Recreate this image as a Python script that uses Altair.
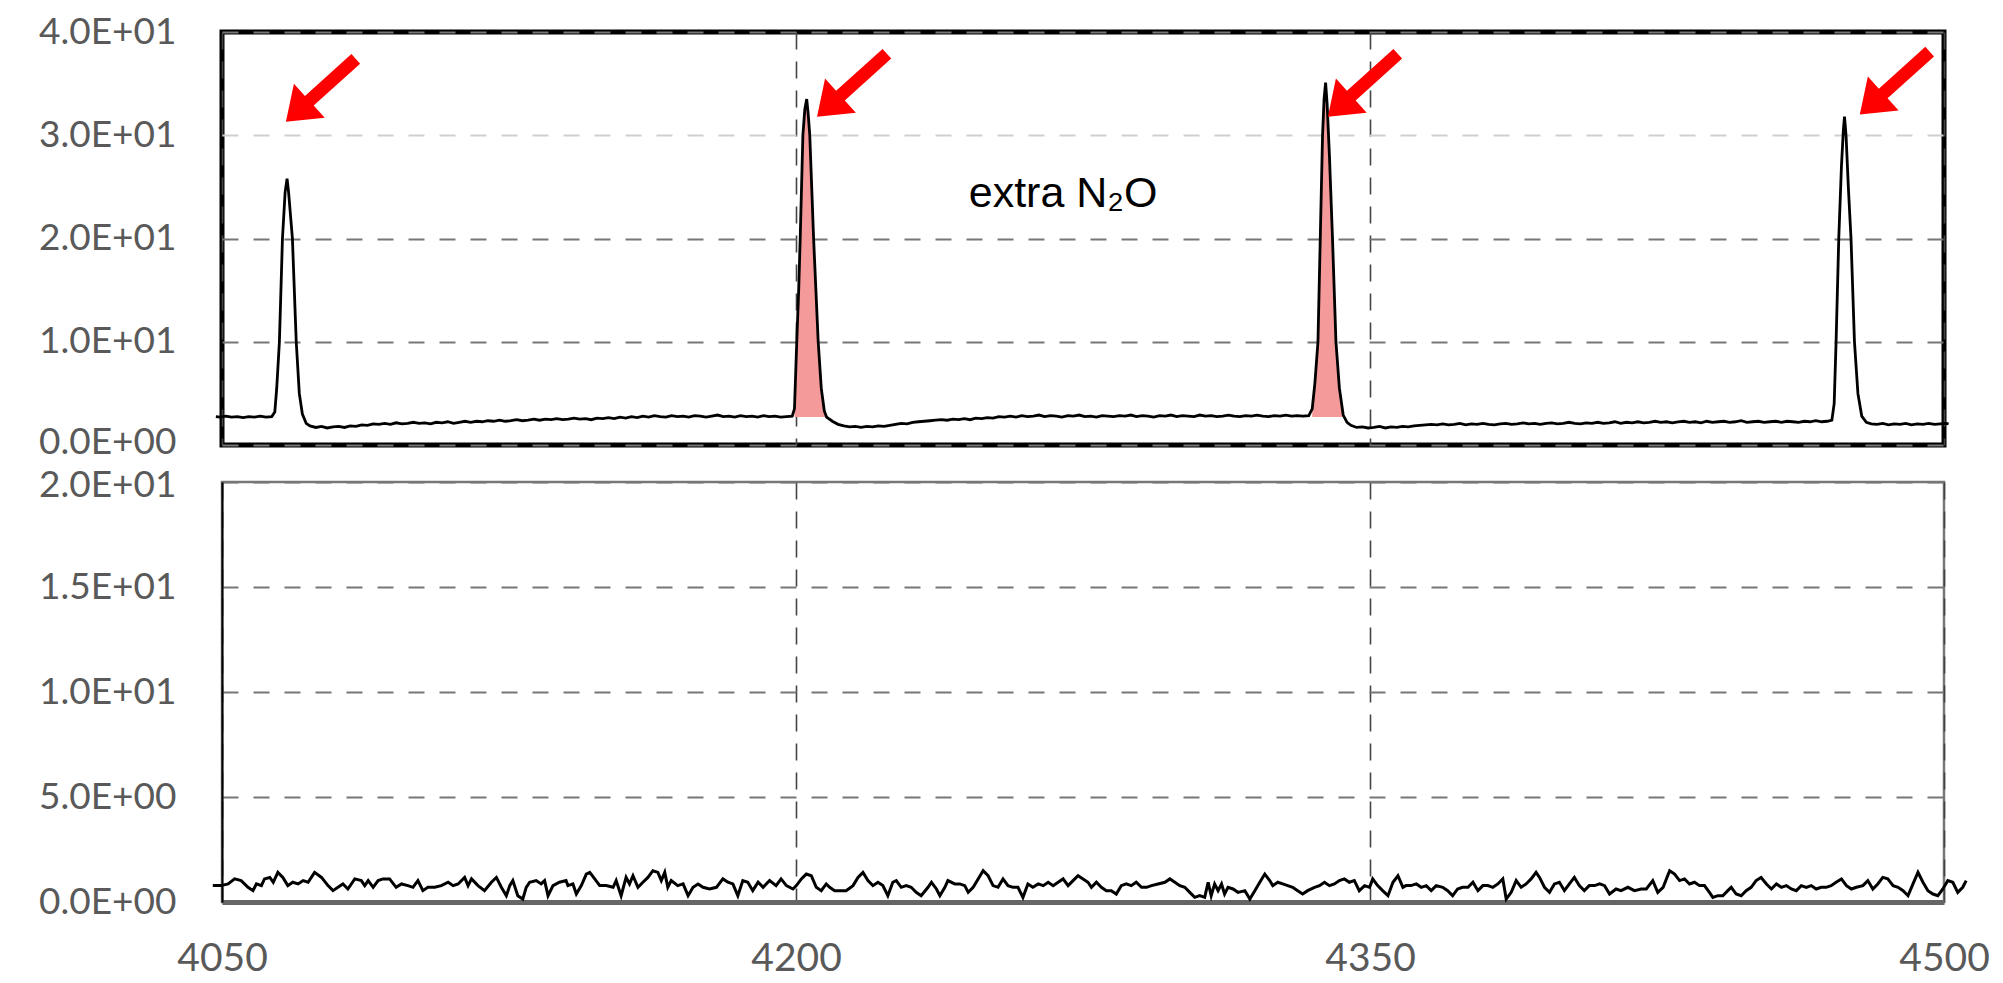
import altair as alt
import pandas as pd

# ---------------- data ----------------
x_ticks = [4050, 4200, 4350, 4500]
top_y_ticks = [0, 10, 20, 30, 40]
bot_y_ticks = [0, 5, 10, 15, 20]

# top spectrum, segment by segment: (wavenumber, signal)
top_seg_a = [(4048.4, 2.75), (4049.5, 2.7), (4051, 2.8), (4052.5, 2.7), (4054, 2.75), (4055.5, 2.65),
             (4057, 2.75), (4058.5, 2.7), (4060, 2.8), (4061.5, 2.7), (4063, 2.75)]
top_peak_1 = [(4063.8, 3.2), (4064.3, 5.5), (4065.0, 10), (4065.8, 20), (4066.5, 24.5), (4067.0, 25.8),
              (4067.4, 24.5), (4068.4, 20), (4069.4, 10), (4070.2, 5.0), (4071.0, 3.0), (4072.0, 2.1),
              (4073.0, 1.85)]
top_seg_b = [(4074.5, 1.7), (4076, 1.8), (4077.5, 1.65), (4079, 1.75), (4080.5, 1.8), (4082, 1.7),
             (4083.5, 1.85), (4085, 1.8), (4086.5, 1.95), (4088, 1.9), (4089.5, 2.05), (4091, 2.0),
             (4092.5, 2.1), (4094, 2.0), (4095.5, 2.15), (4097, 2.05), (4098.5, 2.1), (4100, 2.2),
             (4101.5, 2.1), (4103, 2.15), (4104.5, 2.05), (4106, 2.2), (4107.5, 2.15), (4109, 2.25),
             (4110.5, 2.1), (4112, 2.2), (4113.5, 2.3), (4115, 2.2), (4116.5, 2.3), (4118, 2.25),
             (4119.5, 2.35), (4121, 2.3), (4122.5, 2.4), (4124, 2.3), (4125.5, 2.35), (4127, 2.45),
             (4128.5, 2.35), (4130, 2.4), (4131.5, 2.5), (4133, 2.4), (4134.5, 2.5), (4136, 2.45),
             (4137.5, 2.55), (4139, 2.45), (4140.5, 2.5), (4142, 2.6), (4143.5, 2.5), (4145, 2.55),
             (4146.5, 2.45), (4148, 2.6), (4149.5, 2.55), (4151, 2.65), (4152.5, 2.55), (4154, 2.7),
             (4155.5, 2.6), (4157, 2.75), (4158.5, 2.65), (4160, 2.8), (4161.5, 2.7), (4163, 2.85),
             (4164.5, 2.75), (4166, 2.7), (4167.5, 2.85), (4169, 2.75), (4170.5, 2.8), (4172, 2.7),
             (4173.5, 2.85), (4175, 2.8), (4176.5, 2.7), (4178, 2.8), (4179.5, 2.9), (4181, 2.75),
             (4182.5, 2.8), (4184, 2.7), (4185.5, 2.85), (4187, 2.75), (4188.5, 2.8), (4190, 2.7),
             (4191.5, 2.85), (4193, 2.75), (4194.5, 2.8), (4196, 2.7), (4197.5, 2.75), (4199, 2.8)]
top_peak_2 = [(4199.6, 3.5), (4200.2, 10), (4200.7, 15), (4201.1, 20), (4201.8, 30), (4202.3, 32.5),
              (4202.8, 33.5), (4203.2, 32), (4203.6, 30), (4204.6, 20), (4205.2, 15), (4205.8, 10),
              (4206.6, 5.5), (4207.4, 3.3), (4208.0, 2.7), (4209.5, 2.3), (4211, 2.0)]
top_seg_c = [(4212.5, 1.85), (4214, 1.75), (4215.5, 1.8), (4217, 1.7), (4218.5, 1.8), (4220, 1.75),
             (4221.5, 1.85), (4223, 1.8), (4224.5, 1.9), (4226, 2.0), (4227.5, 2.1), (4229, 2.05),
             (4230.5, 2.2), (4232, 2.25), (4233.5, 2.3), (4235, 2.35), (4236.5, 2.4), (4238, 2.45),
             (4239.5, 2.4), (4241, 2.5), (4242.5, 2.45), (4244, 2.55), (4245.5, 2.45), (4247, 2.6),
             (4248.5, 2.55), (4250, 2.65), (4251.5, 2.6), (4253, 2.75), (4254.5, 2.7), (4256, 2.8),
             (4257.5, 2.7), (4259, 2.85), (4260.5, 2.75), (4262, 2.8), (4263.5, 2.9), (4265, 2.75),
             (4266.5, 2.85), (4268, 2.8), (4269.5, 2.7), (4271, 2.85), (4272.5, 2.8), (4274, 2.9),
             (4275.5, 2.75), (4277, 2.8), (4278.5, 2.7), (4280, 2.85), (4281.5, 2.8), (4283, 2.75),
             (4284.5, 2.85), (4286, 2.8), (4287.5, 2.9), (4289, 2.75), (4290.5, 2.85), (4292, 2.8),
             (4293.5, 2.7), (4295, 2.85), (4296.5, 2.8), (4298, 2.9), (4299.5, 2.75), (4301, 2.85),
             (4302.5, 2.8), (4304, 2.75), (4305.5, 2.9), (4307, 2.8), (4308.5, 2.85), (4310, 2.75),
             (4311.5, 2.8), (4313, 2.9), (4314.5, 2.8), (4316, 2.75), (4317.5, 2.85), (4319, 2.8),
             (4320.5, 2.9), (4322, 2.8), (4323.5, 2.75), (4325, 2.85), (4326.5, 2.8), (4328, 2.9),
             (4329.5, 2.8), (4331, 2.85), (4332.5, 2.8), (4334, 2.85)]
top_peak_3 = [(4334.9, 3.5), (4335.6, 6), (4336.4, 10), (4337.0, 20), (4337.6, 30), (4338.0, 33.5),
              (4338.4, 35.1), (4338.8, 33), (4339.4, 28), (4340.2, 20), (4341.1, 10), (4342.0, 5.5),
              (4343.0, 2.9), (4344.0, 2.2), (4345, 1.9)]
top_seg_d = [(4346.5, 1.7), (4348, 1.75), (4349.5, 1.65), (4351, 1.7), (4352.5, 1.8), (4354, 1.65),
             (4355.5, 1.75), (4357, 1.7), (4358.5, 1.8), (4360, 1.75), (4361.5, 1.85), (4363, 1.9),
             (4364.5, 1.95), (4366, 2.0), (4367.5, 1.95), (4369, 2.05), (4370.5, 1.95), (4372, 2.0),
             (4373.5, 2.1), (4375, 1.95), (4376.5, 2.05), (4378, 2.0), (4379.5, 2.1), (4381, 2.0),
             (4382.5, 1.95), (4384, 2.05), (4385.5, 2.1), (4387, 2.0), (4388.5, 2.05), (4390, 2.15),
             (4391.5, 2.05), (4393, 2.1), (4394.5, 2.0), (4396, 2.1), (4397.5, 2.15), (4399, 2.05),
             (4400.5, 2.1), (4402, 2.2), (4403.5, 2.1), (4405, 2.05), (4406.5, 2.15), (4408, 2.1),
             (4409.5, 2.2), (4411, 2.1), (4412.5, 2.15), (4414, 2.25), (4415.5, 2.1), (4417, 2.2),
             (4418.5, 2.15), (4420, 2.25), (4421.5, 2.15), (4423, 2.2), (4424.5, 2.3), (4426, 2.2),
             (4427.5, 2.25), (4429, 2.15), (4430.5, 2.25), (4432, 2.3), (4433.5, 2.2), (4435, 2.25),
             (4436.5, 2.15), (4438, 2.3), (4439.5, 2.2), (4441, 2.25), (4442.5, 2.3), (4444, 2.2),
             (4445.5, 2.25), (4447, 2.35), (4448.5, 2.2), (4450, 2.25), (4451.5, 2.3), (4453, 2.2),
             (4454.5, 2.25), (4456, 2.3), (4457.5, 2.2), (4459, 2.3), (4460.5, 2.25), (4462, 2.2),
             (4463.5, 2.3), (4465, 2.25), (4466.5, 2.35), (4468, 2.25), (4469.5, 2.3), (4470.7, 2.4)]
top_peak_4 = [(4471.3, 4), (4471.8, 10), (4472.5, 20), (4473.2, 27), (4473.7, 30.5), (4474.0, 31.8),
              (4474.4, 30), (4475.0, 25), (4475.7, 20), (4476.6, 10), (4477.5, 5), (4478.5, 2.8),
              (4479.7, 2.2)]
top_seg_e = [(4481, 2.05), (4482.5, 2.0), (4484, 2.1), (4485.5, 1.95), (4487, 2.05), (4488.5, 2.0),
             (4490, 2.1), (4491.5, 1.95), (4493, 2.05), (4494.5, 2.0), (4496, 2.1), (4497.5, 2.0),
             (4499, 2.05), (4500.5, 2.1), (4501.2, 2.05)]

# shaded (extra N2O) peaks: wavenumber windows and the baseline they are filled down to
fill_windows = [(4199.4, 4208.0), (4334.8, 4343.2)]
fill_base = 2.7

# red arrows: tip positions (wavenumber, signal)
arrow_x = [4066.7, 4205.5, 4339.0, 4478.0]
arrow_y = [31.3, 31.8, 31.8, 32.0]

# annotation
note_text = ["extra N₂O"]
note_x = [4269.8]
note_y = [24.3]

# bottom spectrum (residual noise): wavenumbers and values
bot_x = [4047.6, 4049.8, 4051.6, 4053.3, 4055.0, 4056.8, 4058.1, 4059.0, 4060.3, 4061.1, 4062.5, 4063.4,
         4064.6, 4065.9, 4067.2, 4068.5, 4069.9, 4071.2, 4072.5, 4074.2, 4076.0, 4077.7, 4079.0, 4080.3,
         4081.6, 4082.9, 4084.7, 4086.4, 4087.3, 4088.2, 4089.5, 4090.8, 4092.1, 4093.8, 4095.5, 4096.9,
         4098.6, 4099.9, 4101.2, 4102.5, 4103.8, 4105.6, 4107.3, 4109.1, 4110.4, 4111.7, 4113.4, 4114.3,
         4115.2, 4116.9, 4118.6, 4120.4, 4121.7, 4123.0, 4124.3, 4125.2, 4126.0, 4127.3, 4128.6, 4129.5,
         4130.4, 4132.1, 4133.4, 4134.3, 4135.2, 4136.5, 4138.2, 4139.9,
         4140.4, 4141.7, 4142.6, 4143.9, 4145.2, 4146.1, 4147.4, 4148.7, 4150.4, 4152.2, 4153.0, 4154.3,
         4155.6, 4156.5, 4157.4, 4158.7, 4160.0, 4161.3, 4162.6, 4163.9, 4164.8, 4165.7, 4166.5, 4167.4,
         4169.1, 4170.5, 4171.8, 4173.1, 4174.4, 4175.7, 4177.4, 4179.2, 4180.9, 4182.2, 4183.5, 4184.8,
         4186.1, 4187.4, 4188.7, 4190.1, 4191.4, 4193.1, 4194.8, 4196.1, 4197.5, 4199.2, 4200.1, 4201.4,
         4202.7, 4204.0, 4205.3, 4206.6, 4207.9, 4208.8, 4210.1, 4211.4, 4213.1, 4214.9, 4216.2, 4217.5,
         4218.8, 4220.1, 4221.4, 4222.7, 4224.0, 4225.3, 4226.2, 4227.5, 4228.8, 4230.1, 4231.4, 4232.7,
         4234.5, 4235.4, 4236.7, 4237.6, 4238.9, 4239.7, 4241.5, 4242.8, 4244.1, 4245.0, 4246.3, 4247.6,
         4248.9, 4250.2, 4251.5, 4252.8, 4254.1, 4255.4, 4256.7, 4258.0, 4259.3, 4260.6, 4261.9, 4263.3,
         4264.6, 4265.9, 4267.2, 4268.5, 4269.8, 4271.1, 4272.4, 4273.7, 4275.0, 4276.3, 4277.2, 4278.5,
         4279.8, 4281.1, 4282.4, 4283.7, 4285.0, 4286.3, 4287.6, 4288.9, 4290.3, 4291.6, 4292.9, 4294.6,
         4296.4, 4297.7, 4299.0, 4300.3, 4301.6, 4302.9, 4304.2, 4305.5, 4306.8, 4307.7, 4308.5, 4309.4,
         4310.3, 4311.2, 4312.0, 4312.9, 4314.2, 4315.5, 4317.3, 4318.6, 4319.9, 4321.2, 4322.5, 4323.8,
         4324.6, 4325.9, 4327.2, 4328.5, 4329.8, 4331.1, 4332.4, 4333.7, 4335.5, 4336.8, 4338.1, 4339.4,
         4340.7, 4342.0, 4343.3, 4344.6, 4345.9, 4347.2, 4348.6, 4349.9, 4350.7, 4352.0, 4353.3, 4354.7,
         4356.0, 4357.3, 4358.6, 4359.4, 4360.7, 4362.1, 4363.4, 4364.7, 4366.0, 4367.3, 4369.0, 4370.3,
         4371.6, 4372.9, 4374.2, 4375.6, 4376.9, 4378.2, 4379.5, 4380.8, 4382.1, 4383.4, 4384.7, 4385.6,
         4386.9, 4388.2, 4389.5, 4390.8, 4392.1, 4393.4, 4394.3, 4395.6, 4396.9, 4398.2, 4399.5, 4400.8,
         4402.1, 4403.4, 4404.7, 4406.0, 4407.3, 4408.7, 4410.0, 4411.3, 4412.6, 4414.3, 4415.6,
         4417.4, 4419.1, 4420.9, 4422.2, 4423.9, 4425.2, 4426.6, 4428.3, 4429.6, 4430.9, 4432.2, 4433.5,
         4434.8, 4436.1, 4437.4, 4438.7, 4439.6, 4440.9, 4442.2, 4443.5, 4444.4, 4445.7, 4447.0, 4448.3,
         4449.6, 4450.9, 4452.2, 4453.6, 4454.9, 4456.2, 4457.5, 4458.8, 4460.1, 4461.4, 4462.7, 4464.0,
         4465.3, 4466.6, 4467.9, 4469.2, 4470.5, 4471.8, 4473.2, 4474.5, 4475.8, 4477.1, 4478.8, 4480.1,
         4481.4, 4482.7, 4484.0, 4485.3, 4486.7, 4488.0, 4489.3, 4490.6, 4491.9, 4493.2, 4494.5, 4495.8,
         4497.1, 4498.4, 4499.7, 4501.0, 4502.3, 4503.6, 4504.9, 4505.8]
bot_y = [0.78, 0.78, 0.86, 1.10, 1.02, 0.70, 0.54, 0.86, 0.78, 1.10, 1.17, 0.94,
         1.41, 1.17, 0.78, 0.94, 0.86, 1.02, 0.94, 1.41, 1.17, 0.78, 0.54, 0.70,
         0.86, 0.62, 1.10, 1.02, 0.78, 1.02, 0.70, 1.02, 1.10, 1.10, 0.70, 0.86,
         0.78, 0.70, 1.02, 0.54, 0.70, 0.70, 0.78, 0.94, 0.78, 0.86, 1.17, 0.78,
         1.10, 0.78, 0.54, 0.94, 1.17, 0.70, 0.30, 0.78, 1.02, 0.30, 0.14, 0.70,
         0.94, 1.02, 0.86, 1.02, 0.30, 0.78, 0.94, 1.02,
         0.78, 0.86, 0.38, 0.78, 1.33, 1.41, 1.10, 0.78, 0.78, 0.70, 1.02, 0.30,
         1.17, 0.86, 1.25, 0.70, 0.94, 1.17, 1.49, 1.41, 1.02, 1.41, 0.70, 1.02,
         0.78, 0.86, 0.30, 0.70, 0.86, 0.70, 0.62, 0.70, 1.10, 0.94, 0.86, 0.30,
         1.02, 0.94, 0.54, 0.94, 0.70, 1.02, 0.78, 1.10, 0.78, 0.62, 0.78, 1.10,
         1.33, 1.25, 0.70, 0.54, 0.86, 0.70, 0.54, 0.54, 0.54, 0.78, 1.17, 1.41,
         1.02, 0.78, 0.94, 0.78, 0.30, 0.94, 1.02, 0.70, 0.78, 0.70, 0.46, 0.30,
         0.70, 0.94, 0.62, 0.30, 0.70, 1.02, 0.86, 0.86, 0.78, 0.46, 0.70, 1.10,
         1.49, 1.25, 0.78, 0.70, 1.10, 0.78, 0.70, 0.70, 0.22, 0.86, 0.70, 0.86,
         0.78, 0.94, 0.78, 0.94, 1.10, 0.78, 1.02, 1.25, 1.10, 0.94, 0.70, 0.94,
         0.70, 0.54, 0.54, 0.38, 0.78, 0.86, 0.78, 0.94, 0.70, 0.70, 0.78, 0.86,
         0.94, 1.10, 0.94, 0.78, 0.70, 0.46, 0.22, 0.30, 0.22, 0.94, 0.30, 0.86,
         0.54, 0.86, 0.38, 0.70, 0.62, 0.46, 0.54, 0.14, 0.54, 0.94, 1.33, 1.02,
         0.78, 0.94, 0.86, 0.78, 0.70, 0.54, 0.38, 0.54, 0.70, 0.78, 0.94, 0.78,
         0.86, 1.02, 1.10, 0.94, 1.02, 0.54, 0.78, 0.70, 1.10, 0.78, 0.54, 0.30,
         0.94, 1.25, 0.70, 0.78, 0.78, 0.86, 0.70, 0.78, 0.54, 0.78, 0.70, 0.54,
         0.30, 0.62, 0.70, 0.70, 0.94, 0.54, 0.78, 0.78, 0.70, 0.86, 1.10, 0.14,
         0.46, 1.02, 0.70, 0.86, 1.10, 1.41, 1.17, 0.70, 0.46, 0.86, 0.94, 0.54,
         0.86, 1.17, 0.78, 0.54, 0.78, 0.78, 0.86, 0.78, 0.38, 0.62, 0.54,
         0.70, 0.54, 0.62, 0.62, 1.02, 0.46, 0.70, 1.49, 1.33, 1.02, 1.10, 0.86,
         0.94, 0.78, 0.78, 0.46, 0.22, 0.30, 0.30, 0.54, 0.70, 0.38, 0.30, 0.54,
         0.70, 1.02, 1.17, 0.86, 0.62, 0.86, 0.70, 0.78, 0.62, 0.54, 0.78, 0.70,
         0.78, 0.62, 0.70, 0.70, 0.78, 0.94, 1.10, 0.78, 0.62, 0.70, 0.78, 1.02,
         0.62, 0.86, 1.17, 1.10, 0.78, 0.70, 0.54, 0.30, 0.86, 1.41, 0.94, 0.54,
         0.38, 0.30, 0.62, 1.02, 0.94, 0.46, 0.70, 1.02]

# ---------------- tables ----------------
top_points = (top_seg_a + top_peak_1 + top_seg_b + top_peak_2 + top_seg_c +
              top_peak_3 + top_seg_d + top_peak_4 + top_seg_e)
top_df = pd.DataFrame(top_points, columns=["wn", "sig"])

fill_rows = []
for i, (lo, hi) in enumerate(fill_windows):
    for wn, sig in top_points:
        if lo <= wn <= hi:
            fill_rows.append({"wn": wn, "sig": sig, "peak": i})
fill_df = pd.DataFrame(fill_rows)

bot_df = pd.DataFrame({"wn": bot_x, "sig": bot_y})
arrow_df = pd.DataFrame({"wn": arrow_x, "sig": arrow_y})
note_df = pd.DataFrame({"wn": note_x, "sig": note_y, "txt": note_text})

# ---------------- styling ----------------
LABEL_FONT = "Lato"
Y_LABEL_SIZE = 37
X_LABEL_SIZE = 39
LABEL_COLOR = "#595959"
sci_expr = ("datum.value == 0 ? '0.0E+00' : (datum.value < 10 ? format(datum.value, '.1f') + 'E+00' "
            ": format(datum.value / 10, '.1f') + 'E+01')")

x_scale = alt.Scale(domain=[4050, 4500], nice=False, zero=False)

x_axis_top = alt.Axis(values=x_ticks, labels=False, ticks=False, tickSize=0, domain=False,
                      grid=True, gridDash=[17, 12], gridColor="#444", gridWidth=1.6, title=None)
x_axis_bot = alt.Axis(values=x_ticks, format="d", labelFont=LABEL_FONT, labelFontSize=X_LABEL_SIZE,
                      labelColor=LABEL_COLOR, labelPadding=37, labelFlush=False, ticks=False, tickSize=0,
                      domain=True, domainColor="#666", domainWidth=5,
                      grid=True, gridDash=[17, 12], gridColor="#444", gridWidth=1.6, title=None)

def y_axis(vals, grid_color, domain, offset_value, offset):
    kw = dict(values=vals, labelExpr=sci_expr, labelFont=LABEL_FONT, labelFontSize=Y_LABEL_SIZE,
              labelColor=LABEL_COLOR, labelPadding=46, ticks=False, tickSize=0,
              labelOffset={"condition": {"test": f"datum.value == {offset_value}", "value": offset}, "value": 0},
              grid=True, gridDash=[16, 15], gridColor=grid_color, gridWidth=2,
              minExtent=214, maxExtent=214, title=None)
    if domain:
        kw.update(domain=True, domainColor="black", domainWidth=2)
    else:
        kw.update(domain=False)
    return alt.Axis(**kw)

top_grid_color = {"condition": {"test": "datum.value == 30", "value": "#cfcfcf"}, "value": "#777777"}

# custom block-arrow symbol, tip at the origin, tail along +x (rotated by angle)
ARROW_PATH = "M0,0L0.63,-0.46L0.63,-0.13L1.88,-0.13L1.88,0.13L0.63,0.13L0.63,0.46Z"

# ---------------- top panel ----------------
top_x_enc = alt.X("wn:Q", scale=x_scale, axis=x_axis_top)
top_y_enc = alt.Y("sig:Q", scale=alt.Scale(domain=[0, 40], nice=False),
                  axis=y_axis(top_y_ticks, top_grid_color, False, 0, -3))

fill = alt.Chart(fill_df).mark_area(color="#f59a9a", opacity=1).encode(
    x=top_x_enc, y=top_y_enc, y2=alt.datum(fill_base), detail="peak:N")
top_line = alt.Chart(top_df).mark_line(color="black", strokeWidth=2.8, clip=False).encode(
    x=top_x_enc, y=top_y_enc, order="wn:Q")
arrows = alt.Chart(arrow_df).mark_point(shape=ARROW_PATH, size=10000, angle=318, filled=True,
                                        color="#ff0000", opacity=1, strokeWidth=0).encode(
    x=top_x_enc, y=top_y_enc)
note = alt.Chart(note_df).mark_text(font="Liberation Sans", fontSize=43, color="black",
                                    align="center", baseline="middle").encode(
    x=top_x_enc, y=top_y_enc, text="txt:N")

top = alt.layer(fill, top_line, arrows, note).properties(
    width=1722, height=413, view=alt.ViewBackground(stroke="black", strokeWidth=5))

# ---------------- bottom panel ----------------
bot = alt.Chart(bot_df).mark_line(color="black", strokeWidth=3, clip=False).encode(
    x=alt.X("wn:Q", scale=x_scale, axis=x_axis_bot),
    y=alt.Y("sig:Q", scale=alt.Scale(domain=[0, 20], nice=False),
            axis=y_axis(bot_y_ticks, "#777777", True, 20, 3)),
    order="wn:Q",
).properties(width=1722, height=420, view=alt.ViewBackground(stroke="#777", strokeWidth=2.5))

chart = alt.vconcat(top, bot, spacing=37, bounds="flush").properties(
    padding={"left": 5, "top": 10, "right": 5, "bottom": 0},
    background="white",
)

chart.save("out.html", embed_options={"renderer": "svg", "actions": False})
